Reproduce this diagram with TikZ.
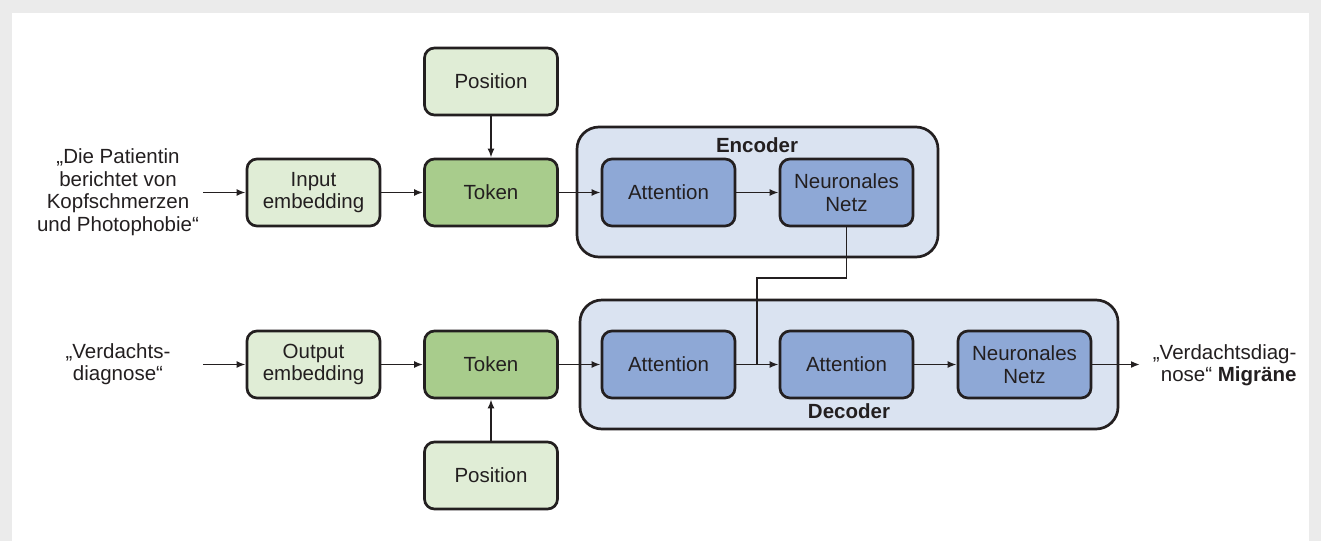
\documentclass[tikz,border=0pt]{standalone}
\usepackage{fontspec}
\setmainfont{Liberation Sans}
\usetikzlibrary{arrows.meta}
\definecolor{hellgruen}{HTML}{E0EDD6}
\definecolor{tokengruen}{HTML}{A8CC8C}
\definecolor{hellblau}{HTML}{DAE3F1}
\definecolor{netzblau}{HTML}{8EA8D6}
\definecolor{linie}{HTML}{231F20}
\definecolor{rahmen}{HTML}{EBEBEB}
\tikzset{
  kasten/.style={draw=linie, line width=2.7pt, rounded corners=10pt, minimum width=133pt, minimum height=67pt, inner sep=0pt, align=center, text=linie},
  einbett/.style={kasten, fill=hellgruen},
  token/.style={kasten, fill=tokengruen},
  netz/.style={kasten, fill=netzblau},
  gruppe/.style={draw=linie, line width=2.7pt, rounded corners=22pt, fill=hellblau, inner sep=0pt},
  pfeil/.style={-{Latex[length=9pt,width=7pt]}, line width=1.9pt, draw=linie},
  linienzug/.style={line width=1.9pt, draw=linie}
}
\begin{document}
\begin{tikzpicture}[x=1pt, y=-1pt, font=\fontsize{20.5}{22.5}\selectfont] %Start, Pixelmaßstab
					\fill[rahmen] (0,0) rectangle (1321,541); %Grauer Rand
					\fill[white] (12,13) rectangle (1309,541);
					\useasboundingbox (0,0) rectangle (1321,541);
						%Gruppen
					\node[gruppe, minimum width=361pt, minimum height=130pt] (encoder) at (757.5,192) {}; %Encoder
					\node[gruppe, minimum width=538pt, minimum height=129pt] (decoder) at (849,364.5) {}; %Decoder
					\node[text=linie, font=\fontsize{20.5}{22.5}\selectfont\bfseries] (enctitel) at (757,145) {Encoder};
					\node[text=linie, font=\fontsize{20.5}{22.5}\selectfont\bfseries] (dectitel) at (849,411) {Decoder};
						%Obere Reihe
					\node[text=linie, align=center] (eingabe) at (118,192) {„Die Patientin\\berichtet von\\Kopfschmerzen\\und Photophobie“};
					\node[einbett] (inemb) at (313.5,192.5) {Input\\embedding};
					\node[token] (tokenoben) at (491,192.5) {Token};
					\node[einbett] (posoben) at (491,81.5) {Position};
					\node[netz] (encatt) at (668.5,192.5) {Attention};
					\node[netz] (encnetz) at (846.5,192.5) {Neuronales\\Netz};
						%Untere Reihe
					\node[text=linie, align=center] (ausgabe) at (118,364) {„Verdachts-\\diagnose“};
					\node[einbett] (outemb) at (313.5,364.5) {Output\\embedding};
					\node[token] (tokenunten) at (491,364.5) {Token};
					\node[einbett] (posunten) at (491,475.5) {Position};
					\node[netz] (decatt) at (668.5,364.5) {Attention};
					\node[netz] (deccross) at (846.5,364.5) {Attention};
					\node[netz] (decnetz) at (1024.5,364.5) {Neuronales\\Netz};
					\node[text=linie, align=right, anchor=east] (ergebnis) at (1300,365) {„Verdachtsdiag-\\nose“ \textbf{Migräne}};
						%Pfeile
					\coordinate (start1) at (203,192.5);
					\coordinate (start2) at (203,364.5);
					\coordinate (ende) at (1140,364.5);
					\draw[pfeil] (start1) -- (inemb);
					\draw[pfeil] (inemb) -- (tokenoben);
					\draw[pfeil] (posoben) -- (tokenoben);
					\draw[pfeil] (tokenoben) -- (encatt);
					\draw[pfeil] (encatt) -- (encnetz);
					\draw[pfeil] (start2) -- (outemb);
					\draw[pfeil] (outemb) -- (tokenunten);
					\draw[pfeil] (posunten) -- (tokenunten);
					\draw[pfeil] (tokenunten) -- (decatt);
					\draw[pfeil] (decatt) -- (deccross);
					\draw[pfeil] (deccross) -- (decnetz);
					\draw[pfeil] (decnetz) -- (ende);
						%Verbindung Encoder-Decoder
					\coordinate (knick) at (757,278);
					\draw[linienzug] (encnetz.south) |- (knick) -- (knick |- deccross.west);
				\end{tikzpicture}
\end{document}
